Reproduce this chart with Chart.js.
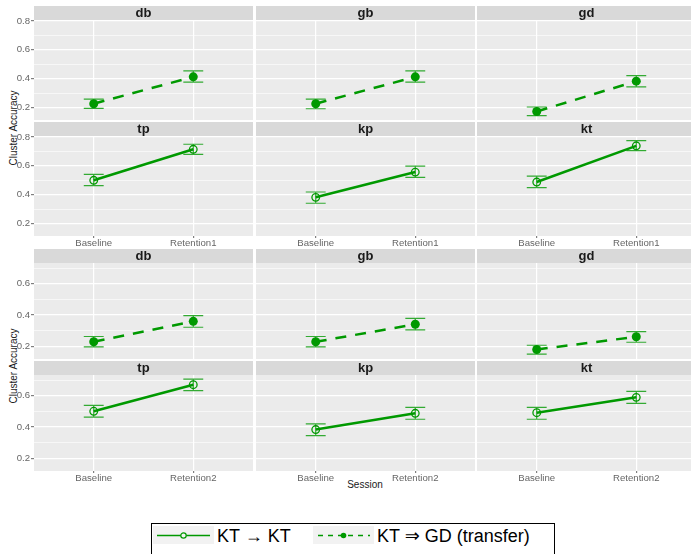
<!DOCTYPE html>
<html>
<head>
<meta charset="utf-8">
<script src="https://cdn.jsdelivr.net/npm/chart.js@4.4.0/dist/chart.umd.min.js"></script>
<style>
  body { margin: 0; width: 691px; height: 554px; overflow: hidden; background: #fff; position: relative;
         font-family: "Liberation Sans", Arial, "DejaVu Sans", sans-serif; }
  .panel { position: absolute; }
  .ytitle { position: absolute; width: 120px; margin-left: -60px; text-align: center; font-size: 10px;
            line-height: 12px; color: #1a1a1a; transform: rotate(-90deg); white-space: nowrap; }
  .xtitle { position: absolute; width: 120px; margin-left: -60px; text-align: center; font-size: 10px;
            line-height: 12px; color: #1a1a1a; }
  #legend { position: absolute; left: 151px; top: 523px; width: 404px; height: 44px; box-sizing: border-box;
            border: 1px solid #000; background: #fff; }
  #legend .key { position: absolute; top: 2px; width: 61px; height: 18px; background: #f2f2f2; }
  #legend .lab { position: absolute; top: 2.5px; font-size: 18px; line-height: 18px; color: #000; white-space: nowrap; }
</style>
</head>
<body>
<div class="ytitle" style="left:14px; top:122px;">Cluster Accuracy</div>
<div class="ytitle" style="left:14px; top:360px;">Cluster Accuracy</div>
<div class="xtitle" style="left:365px; top:479px;">Session</div>

<div id="legend">
  <div class="key" style="left:1px;">
    <svg width="61" height="18"><line x1="4" y1="9.5" x2="57" y2="9.5" stroke="#009900" stroke-width="1.4"/>
      <circle cx="30.5" cy="9.5" r="2.7" fill="#f2f2f2" stroke="#009900" stroke-width="1.2"/></svg>
  </div>
  <div class="lab" style="left:65px;">KT → KT</div>
  <div class="key" style="left:161px;">
    <svg width="61" height="18"><line x1="5" y1="9.5" x2="57" y2="9.5" stroke="#009900" stroke-width="1.4" stroke-dasharray="5,5"/>
      <circle cx="30.5" cy="9.5" r="2.8" fill="#009900"/></svg>
  </div>
  <div class="lab" style="left:225px;">KT ⇒ GD (transfer)</div>
</div>

<script>
const FONT = '"Liberation Sans", Arial, sans-serif';
const GREEN = '#009900';
const ERR_GREEN = '#33aa33';

// facets: first three are the transfer condition, last three KT -> KT
const facets = ['db', 'gb', 'gd', 'tp', 'kp', 'kt'];
const transferFacets = ['db', 'gb', 'gd'];
const sessionPos = [1, 2];
const sessionsA = ['Baseline', 'Retention1'];
const sessionsB = ['Baseline', 'Retention2'];

// mean accuracy and error bar limits, [Baseline, Retention] per facet
const meanA = [[0.226, 0.412], [0.226, 0.412], [0.172, 0.382], [0.499, 0.714], [0.381, 0.556], [0.487, 0.738]];
const lowA  = [[0.193, 0.375], [0.191, 0.375], [0.143, 0.343], [0.462, 0.678], [0.340, 0.519], [0.448, 0.705]];
const highA = [[0.258, 0.453], [0.258, 0.453], [0.203, 0.421], [0.540, 0.749], [0.418, 0.597], [0.528, 0.774]];

const meanB = [[0.228, 0.359], [0.228, 0.340], [0.179, 0.260], [0.500, 0.670], [0.383, 0.487], [0.491, 0.589]];
const lowB  = [[0.196, 0.321], [0.196, 0.304], [0.149, 0.225], [0.462, 0.632], [0.344, 0.449], [0.449, 0.551]];
const highB = [[0.262, 0.395], [0.262, 0.378], [0.206, 0.293], [0.538, 0.706], [0.419, 0.525], [0.525, 0.627]];

const yMajor = [0.2, 0.4, 0.6, 0.8];
const yMinor = [0.3, 0.5, 0.7];
const yRangeA = [0.113, 0.806];
const yRangeB = [0.118, 0.732];

// layout
const colLeft = [34, 256, 477];
const PANEL_W = 219;
const STRIP_H = 14;
const XLAB_H = 13;
const groups = [
  { rowTop: [6, 122], panelH: 100, sessions: sessionsA, mean: meanA, low: lowA, high: highA, yRange: yRangeA },
  { rowTop: [249, 361], panelH: 96, sessions: sessionsB, mean: meanB, low: lowB, high: highB, yRange: yRangeB }
];

const isMajor = v => yMajor.some(m => Math.abs(m - v) < 1e-6);

// panel background, strip fill and error bars
const panelDecor = {
  id: 'panelDecor',
  beforeDraw(chart) {
    const { ctx, chartArea: a } = chart;
    ctx.save();
    ctx.fillStyle = '#ebebeb';
    ctx.fillRect(a.left, a.top, a.right - a.left, a.bottom - a.top);
    const t = chart.titleBlock;
    ctx.fillStyle = '#d9d9d9';
    ctx.fillRect(a.left, t.top, a.right - a.left, t.height);
    ctx.restore();
  },
  beforeDatasetsDraw(chart) {
    const { ctx, scales: { x, y } } = chart;
    chart.data.datasets.forEach(ds => {
      ctx.save();
      ctx.strokeStyle = ERR_GREEN;
      ctx.lineWidth = 1.2;
      ds.data.forEach((p, i) => {
        const xl = x.getPixelForValue(p.x - 0.1);
        const xr = x.getPixelForValue(p.x + 0.1);
        const xc = x.getPixelForValue(p.x);
        const yl = y.getPixelForValue(ds.errLow[i]);
        const yh = y.getPixelForValue(ds.errHigh[i]);
        ctx.beginPath();
        ctx.moveTo(xl, yh); ctx.lineTo(xr, yh);
        ctx.moveTo(xc, yh); ctx.lineTo(xc, yl);
        ctx.moveTo(xl, yl); ctx.lineTo(xr, yl);
        ctx.stroke();
      });
      ctx.restore();
    });
  }
};

function makePanel(g, idx) {
  const row = Math.floor(idx / 3), col = idx % 3;
  const name = facets[idx];
  const transfer = transferFacets.includes(name);
  const bottom = row === 1;
  const left = col === 0;

  const x0 = left ? 0 : colLeft[col];
  const w = (left ? colLeft[0] : 0) + PANEL_W;
  const h = STRIP_H + g.panelH + (bottom ? XLAB_H : 0);

  const wrap = document.createElement('div');
  wrap.className = 'panel';
  wrap.style.left = x0 + 'px';
  wrap.style.top = g.rowTop[row] + 'px';
  const canvas = document.createElement('canvas');
  canvas.width = w;
  canvas.height = h;
  canvas.style.width = w + 'px';
  canvas.style.height = h + 'px';
  wrap.appendChild(canvas);
  document.body.appendChild(wrap);

  const points = sessionPos.map((p, i) => ({ x: p, y: g.mean[idx][i] }));

  new Chart(canvas, {
    type: 'line',
    data: {
      datasets: [{
        label: transfer ? 'KT ⇒ GD (transfer)' : 'KT → KT',
        data: points,
        errLow: g.low[idx],
        errHigh: g.high[idx],
        borderColor: GREEN,
        borderWidth: 2.5,
        borderDash: transfer ? [11, 9] : [],
        tension: 0,
        pointStyle: 'circle',
        pointRadius: transfer ? 4.5 : 3.8,
        pointBorderWidth: transfer ? 0 : 1.3,
        pointBorderColor: GREEN,
        pointBackgroundColor: transfer ? GREEN : 'rgba(0,0,0,0)'
      }]
    },
    options: {
      responsive: false,
      animation: false,
      layout: { padding: 0, autoPadding: false },
      plugins: {
        legend: { display: false },
        tooltip: { enabled: false },
        title: {
          display: true, text: name, fullSize: false, color: '#1a1a1a', padding: 0,
          font: { family: FONT, size: 13, weight: 'bold', lineHeight: '14px' }
        }
      },
      scales: {
        x: {
          type: 'linear', min: 0.4, max: 2.6,
          afterBuildTicks: a => { a.ticks = sessionPos.map(v => ({ value: v })); },
          afterFit: a => { a.height = bottom ? XLAB_H : 0; a.paddingLeft = 0; a.paddingRight = 0; },
          border: { display: false },
          grid: { color: '#ffffff', lineWidth: 1.2, drawTicks: bottom, tickLength: 2, tickColor: '#7f7f7f' },
          ticks: {
            display: bottom, padding: 0, maxRotation: 0, autoSkip: false,
            color: '#666666', font: { family: FONT, size: 9.6 },
            callback: v => g.sessions[sessionPos.indexOf(v)]
          }
        },
        y: {
          min: g.yRange[0], max: g.yRange[1],
          afterBuildTicks: a => {
            a.ticks = yMajor.concat(yMinor)
              .filter(v => v >= a.min && v <= a.max)
              .sort((p, q) => p - q)
              .map(v => ({ value: v }));
          },
          afterFit: a => { a.width = left ? colLeft[0] : 0; a.paddingTop = 0; a.paddingBottom = 0; },
          border: { display: false },
          grid: {
            color: '#ffffff',
            lineWidth: c => isMajor(c.tick.value) ? 1.2 : 0.6,
            drawTicks: left, tickLength: 3,
            tickColor: c => isMajor(c.tick.value) ? '#7f7f7f' : 'rgba(0,0,0,0)'
          },
          ticks: {
            display: left, padding: 1,
            color: '#666666', font: { family: FONT, size: 9.6 },
            callback: v => isMajor(v) ? v.toFixed(1) : ''
          }
        }
      }
    },
    plugins: [panelDecor]
  });
}

groups.forEach(g => facets.forEach((f, i) => makePanel(g, i)));
</script>
</body>
</html>
